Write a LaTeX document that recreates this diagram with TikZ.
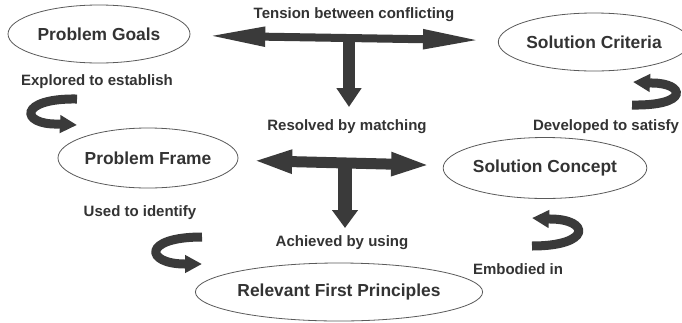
\documentclass[tikz,border=0pt]{standalone}
\usepackage{fontspec}
\setmainfont{Liberation Sans}
\usetikzlibrary{shapes.geometric,arrows.meta,calc}
\definecolor{ink}{HTML}{333333}
\definecolor{arrowgray}{HTML}{3A3A3A}
\definecolor{rim}{HTML}{5A5A5A}
\tikzset{
  concept/.style={ellipse, draw=rim, line width=0.8pt, inner sep=0pt, text=ink,
    font=\fontsize{17.4}{20}\selectfont\bfseries},
  lbl/.style={text=ink, inner sep=0pt, font=\fontsize{15}{18}\selectfont\bfseries},
  toparrow/.style={draw=arrowgray, line width=8pt,
    {Triangle[length=58pt,width=18pt]}-{Triangle[length=58pt,width=18pt]},
    shorten <=17pt, shorten >=17pt},
  midarrow/.style={draw=arrowgray, line width=11pt,
    {Triangle[length=40pt,width=21pt]}-{Triangle[length=40pt,width=21pt]},
    shorten <=14pt, shorten >=12pt},
  downarrow/.style={draw=arrowgray, line width=12pt, -{Triangle[length=19pt,width=24pt]}},
  downarrowb/.style={draw=arrowgray, line width=14pt, -{Triangle[length=18pt,width=25pt]}},
  turnarrow/.style={draw=arrowgray, line width=9pt, -{Triangle[length=17pt,width=17pt]}},
}
\begin{document}
\begin{tikzpicture}[x=1pt,y=-1pt]
\useasboundingbox[fill=white] (0,0) rectangle (682,322);
% concepts
\node[concept, minimum width=182pt, minimum height=58pt] (pg) at (99,34) {Problem Goals};
\node[concept, minimum width=172pt, minimum height=58pt] (scr) at (594,42) {Solution Criteria};
\node[concept, minimum width=180pt, minimum height=60pt] (pf) at (148,158) {Problem Frame};
\node[concept, minimum width=177pt, minimum height=61pt] (scon) at (545,168) {Solution Concept};
\node[concept, minimum width=251pt, minimum height=58pt] (rfp) at (339,292) {Relevant First Principles};
% labels
\node[lbl] (tension) at (354,15) {Tension between conflicting};
\node[lbl] (explored) at (97,82) {Explored to establish};
\node[lbl] (resolved) at (347,127) {Resolved by matching};
\node[lbl] (developed) at (606,127) {Developed to satisfy};
\node[lbl] (used) at (140,213) {Used to identify};
\node[lbl] (achieved) at (342,243) {Achieved by using};
\node[lbl] (embodied) at (518,269) {Embodied in};
% straight arrows
\draw[toparrow] (pg) -- (scr);
\coordinate (t1) at (349,37);
\coordinate (t1end) at (349,107);
\draw[downarrow] (t1) -- (t1end);
\draw[midarrow] (pf) -- (scon);
\coordinate (t2) at (345,164);
\coordinate (t2end) at (345,228);
\draw[downarrowb] (t2) -- (t2end);
% turning arrows
\draw[turnarrow] (77,99) .. controls (18,98) and (20,125) .. (58,124) -- (77,125);
\draw[turnarrow] (632,105) .. controls (690,106) and (685,83) .. (652,83) -- (633,82);
\draw[turnarrow] (202,237) .. controls (142,237) and (145,264) .. (185,264) -- (202,264);
\draw[turnarrow] (532,246) .. controls (592,246) and (590,219) .. (550,219) -- (532,218);
\end{tikzpicture}
\end{document}
